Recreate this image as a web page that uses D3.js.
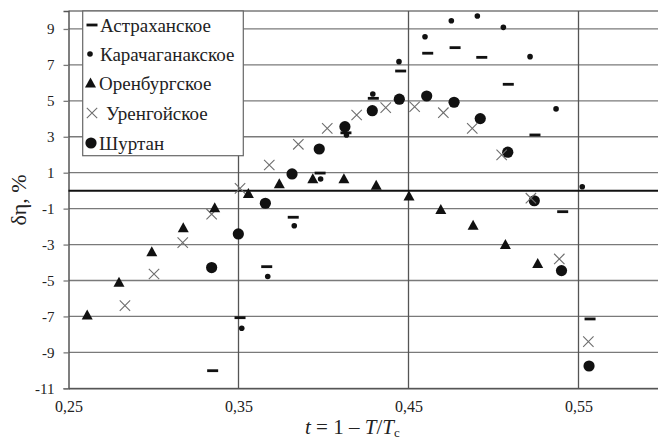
<!DOCTYPE html>
<html>
<head>
<meta charset="utf-8">
<script src="https://cdn.jsdelivr.net/npm/d3@7/dist/d3.min.js"></script>
<style>
  html, body { margin: 0; padding: 0; background: #fff; }
  svg { display: block; }
</style>
</head>
<body>
<svg id="chart" width="658" height="441"></svg>
<script>
// Tick values of both axes
const xTicks = [0.25, 0.35, 0.45, 0.55];
const yTicks = [-11, -9, -7, -5, -3, -1, 1, 3, 5, 7, 9];

// Field data: [t, δη %]
const astrakhan = [
  [0.3348, -10.02], [0.3509, -7.07], [0.3666, -4.23], [0.3822, -1.48], [0.3980, 0.98],
  [0.4132, 3.22], [0.4293, 5.14], [0.4454, 6.66], [0.4613, 7.65], [0.4774, 7.96],
  [0.4931, 7.42], [0.5087, 5.92], [0.5244, 3.10], [0.5407, -1.17], [0.5568, -7.14]
];
const karachaganak = [
  [0.3519, -7.66], [0.3672, -4.78], [0.3828, -1.95], [0.3983, 0.65], [0.4135, 3.10],
  [0.4290, 5.38], [0.4444, 7.18], [0.4597, 8.57], [0.4752, 9.46], [0.4905, 9.72],
  [0.5058, 9.09], [0.5215, 7.46], [0.5368, 4.55], [0.5522, 0.22]
];
const orenburg = [
  [0.2610, -6.95], [0.2797, -5.12], [0.2990, -3.43], [0.3175, -2.09], [0.3360, -0.98],
  [0.3558, -0.18], [0.3740, 0.36], [0.3937, 0.63], [0.4120, 0.63], [0.4310, 0.28],
  [0.4503, -0.33], [0.4690, -1.07], [0.4880, -1.95], [0.5070, -3.02], [0.5260, -4.08]
];
const urengoy = [
  [0.2832, -6.40], [0.3003, -4.64], [0.3172, -2.89], [0.3342, -1.31], [0.3509, 0.13],
  [0.3681, 1.43], [0.3852, 2.58], [0.4022, 3.47], [0.4195, 4.21], [0.4366, 4.62],
  [0.4536, 4.67], [0.4705, 4.34], [0.4875, 3.47], [0.5048, 1.99], [0.5220, -0.42],
  [0.5387, -3.80], [0.5558, -8.40]
];
const shurtan = [
  [0.3342, -4.28], [0.3499, -2.41], [0.3658, -0.70], [0.3815, 0.93], [0.3975, 2.32],
  [0.4126, 3.56], [0.4287, 4.45], [0.4446, 5.09], [0.4607, 5.27], [0.4768, 4.92],
  [0.4922, 4.01], [0.5084, 2.14], [0.5240, -0.56], [0.5400, -4.45], [0.5562, -9.76]
];
const seriesNames = ["Астраханское", "Карачаганакское", "Оренбургское", "Уренгойское", "Шуртан"];

const SERIF = "'Times New Roman', 'Liberation Serif', Tinos, 'DejaVu Serif', serif";
const svg = d3.select("#chart").attr("font-family", SERIF);
const x = d3.scaleLinear().domain([0.25, 0.6]).range([68.5, 663.5]);
const y = d3.scaleLinear().domain([-11, 10]).range([388.3, 11]);
const [x0, x1] = x.range();
const gridColor = "#7a7a7a";
const textColor = "#222";

// Horizontal gridlines at every labelled value, plus the top border
const grid = svg.append("g");
grid.selectAll("line.h").data(yTicks.concat([10])).join("line")
  .attr("x1", x0).attr("x2", x1)
  .attr("y1", d => y(d)).attr("y2", d => y(d))
  .attr("stroke", gridColor).attr("stroke-width", 1.3);
// Vertical gridlines
grid.selectAll("line.v").data(xTicks.slice(1)).join("line")
  .attr("x1", d => x(d)).attr("x2", d => x(d))
  .attr("y1", y(10)).attr("y2", y(-11))
  .attr("stroke", "#555").attr("stroke-width", 1.3);

// Y axis with outward ticks
const yAxis = svg.append("g").attr("transform", `translate(${x0},0)`)
  .call(d3.axisLeft(y).tickValues(yTicks).tickSize(5).tickPadding(9).tickFormat(d => String(d)));
yAxis.attr("font-family", SERIF).attr("font-size", 15);
yAxis.select(".domain").attr("stroke", "#555").attr("stroke-width", 1.5);
yAxis.selectAll(".tick line").attr("stroke", gridColor).attr("stroke-width", 1.3);
yAxis.selectAll(".tick text").attr("fill", textColor);

// X axis labels along the bottom
const xAxis = svg.append("g").attr("transform", `translate(0,${y(-11)})`)
  .call(d3.axisBottom(x).tickValues(xTicks).tickSize(0).tickPadding(12)
    .tickFormat(d => d.toFixed(2).replace(".", ",")));
xAxis.attr("font-family", SERIF).attr("font-size", 16);
xAxis.select(".domain").attr("stroke", "#555").attr("stroke-width", 1.5);
xAxis.selectAll(".tick text").attr("fill", textColor);

// Zero line
svg.append("line")
  .attr("x1", x0).attr("x2", x1).attr("y1", y(0)).attr("y2", y(0))
  .attr("stroke", "#111").attr("stroke-width", 2);

// Marker drawers
const ink = "#111";
function dash(g, cx, cy) {
  g.append("rect").attr("x", cx - 5.5).attr("y", cy - 1.4).attr("width", 11).attr("height", 2.8).attr("fill", ink);
}
function dot(g, cx, cy) {
  g.append("circle").attr("cx", cx).attr("cy", cy).attr("r", 2.8).attr("fill", ink);
}
function tri(g, cx, cy) {
  g.append("path").attr("d", `M${cx},${cy - 6}L${cx + 5.5},${cy + 4}L${cx - 5.5},${cy + 4}Z`).attr("fill", ink);
}
function cross(g, cx, cy) {
  const s = 5.2;
  g.append("path").attr("d", `M${cx - s},${cy - s}L${cx + s},${cy + s}M${cx - s},${cy + s}L${cx + s},${cy - s}`)
    .attr("stroke", "#6e6e6e").attr("stroke-width", 1.1).attr("fill", "none");
}
function bigDot(g, cx, cy) {
  g.append("circle").attr("cx", cx).attr("cy", cy).attr("r", 5.6).attr("fill", ink);
}
const drawers = [dash, dot, tri, cross, bigDot];
const allSeries = [astrakhan, karachaganak, orenburg, urengoy, shurtan];

const pts = svg.append("g");
// Draw order keeps the small markers visible over the big circles
[4, 3, 2, 0, 1].forEach(i => {
  const g = pts.append("g");
  allSeries[i].forEach(([t, v]) => drawers[i](g, x(t), y(v)));
});

// Legend
const lg = svg.append("g");
lg.append("rect").attr("x", 82.7).attr("y", 11).attr("width", 160.6).attr("height", 144.7)
  .attr("fill", "#fff").attr("stroke", "#666").attr("stroke-width", 1.2);
const legRows = [25, 54, 83.5, 113, 143];
const legMarkX = [92, 90, 90.5, 92, 91];
const legTextX = [100, 100, 99, 106, 99];
seriesNames.forEach((name, i) => {
  drawers[i](lg, legMarkX[i], legRows[i]);
  lg.append("text").attr("x", legTextX[i]).attr("y", legRows[i] + 6.5)
    .attr("font-size", 19).attr("fill", textColor).text(name);
});

// Axis titles
svg.append("text")
  .attr("transform", "translate(26,200) rotate(-90)")
  .attr("text-anchor", "middle")
  .attr("font-size", 22).attr("fill", textColor)
  .text("δη, %");

const xt = svg.append("text").attr("x", 305).attr("y", 434).attr("font-size", 21).attr("fill", textColor);
xt.append("tspan").attr("font-style", "italic").text("t");
xt.append("tspan").text(" = 1 – ");
xt.append("tspan").attr("font-style", "italic").text("T");
xt.append("tspan").text("/");
xt.append("tspan").attr("font-style", "italic").text("T");
xt.append("tspan").attr("dy", 3).attr("font-size", 13).text("c");
</script>
</body>
</html>
